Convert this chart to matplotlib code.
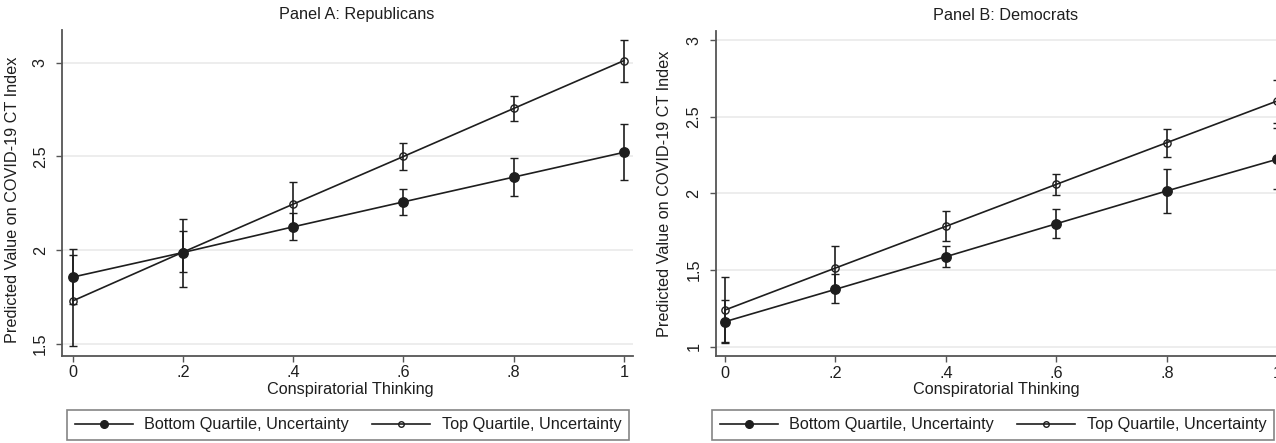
import matplotlib
matplotlib.use("Agg")
from matplotlib import pyplot as plt
from matplotlib.lines import Line2D
import numpy as np

plt.rcParams["font.family"] = ["Liberation Sans", "DejaVu Sans"]
plt.rcParams["font.size"] = 11.7

# data
x = [0, 0.2, 0.4, 0.6, 0.8, 1]
x_ticklabels = ["0", ".2", ".4", ".6", ".8", "1"]
series_names = ["Bottom Quartile, Uncertainty", "Top Quartile, Uncertainty"]

# Panel A: Republicans
rep_bottom = [1.857, 1.988, 2.125, 2.258, 2.390, 2.522]
rep_bottom_lo = [1.713, 1.882, 2.053, 2.187, 2.289, 2.374]
rep_bottom_hi = [2.009, 2.100, 2.196, 2.328, 2.492, 2.672]
rep_top = [1.730, 1.990, 2.246, 2.500, 2.756, 3.011]
rep_top_lo = [1.488, 1.805, 2.127, 2.428, 2.688, 2.898]
rep_top_hi = [1.973, 2.168, 2.364, 2.571, 2.822, 3.123]

# Panel B: Democrats
dem_bottom = [1.163, 1.374, 1.587, 1.802, 2.016, 2.223]
dem_bottom_lo = [1.024, 1.285, 1.517, 1.706, 1.874, 2.028]
dem_bottom_hi = [1.305, 1.474, 1.654, 1.898, 2.158, 2.428]
dem_top = [1.239, 1.513, 1.785, 2.059, 2.331, 2.603]
dem_top_lo = [1.030, 1.366, 1.687, 1.990, 2.240, 2.460]
dem_top_hi = [1.452, 1.659, 1.883, 2.127, 2.421, 2.742]

INK = "#1e1e1e"
W, H = 1276, 443


def px_axes(left, top, right, bottom):
    # pixel box -> figure fraction
    return [left / W, 1 - bottom / H, (right - left) / W, (bottom - top) / H]


def draw_series(ax, est, lo, hi, filled):
    est = np.array(est)
    yerr = [est - np.array(lo), np.array(hi) - est]
    ax.errorbar(
        x, est, yerr=yerr,
        color=INK, lw=1.2, elinewidth=1.2, capsize=3.2, capthick=1.2,
        marker="o",
        markersize=6.8 if filled else 5.2,
        markerfacecolor=INK if filled else "none",
        markeredgecolor=INK, markeredgewidth=1.0,
        clip_on=False, zorder=3,
    )


def style_axes(ax, xlim, ylim, yticks, yticklabels):
    ax.set_xlim(*xlim)
    ax.set_ylim(*ylim)
    ax.set_xticks(x)
    ax.set_xticklabels(x_ticklabels)
    ax.set_yticks(yticks)
    ax.set_yticklabels(yticklabels, rotation=90, va="center")
    for side in ["top", "right"]:
        ax.spines[side].set_visible(False)
    for side in ["left", "bottom"]:
        ax.spines[side].set_color("#555555")
        ax.spines[side].set_linewidth(1.3)
    ax.tick_params(axis="both", length=4, width=1.0, color="#555555",
                   labelcolor=INK, labelsize=11.7)
    ax.tick_params(axis="y", pad=6)
    ax.tick_params(axis="x", pad=3)
    ax.grid(axis="y", color="#ececec", lw=1.3)
    ax.set_axisbelow(True)
    ax.set_xlabel("Conspiratorial Thinking", color=INK)
    ax.set_ylabel("Predicted Value on COVID-19 CT Index", color=INK)


fig = plt.figure(figsize=(W / 100, H / 100), dpi=100)
fig.patch.set_facecolor("white")

axA = fig.add_axes(px_axes(61.7, 30, 633, 355.7))
draw_series(axA, rep_bottom, rep_bottom_lo, rep_bottom_hi, True)
draw_series(axA, rep_top, rep_top_lo, rep_top_hi, False)
style_axes(axA, (-0.02, 1.0163), (1.438, 3.174), [1.5, 2, 2.5, 3],
           ["1.5", "2", "2.5", "3"])
axA.xaxis.set_label_coords(0.505, -0.105)
axA.xaxis.label.set_va("center")
axA.yaxis.set_label_coords(-0.073, 0.48)

axB = fig.add_axes(px_axes(715.5, 30.7, 1286.8, 356))
draw_series(axB, dem_bottom, dem_bottom_lo, dem_bottom_hi, True)
draw_series(axB, dem_top, dem_top_lo, dem_top_hi, False)
style_axes(axB, (-0.0172, 1.017), (0.939, 3.061), [1, 1.5, 2, 2.5, 3],
           ["1", "1.5", "2", "2.5", "3"])
axB.xaxis.set_label_coords(0.492, -0.104)
axB.xaxis.label.set_va("center")
axB.yaxis.set_label_coords(-0.076, 0.5)

fig.text(357 / W, 1 - 15 / H, "Panel A: Republicans", ha="center", va="center",
         color=INK, fontsize=11.7)
fig.text(1006 / W, 1 - 15 / H, "Panel B: Democrats", ha="center", va="center",
         color=INK, fontsize=11.7)

handles = [
    Line2D([], [], color=INK, lw=1.2, marker="o", markersize=5.5,
           markerfacecolor=INK, markeredgecolor=INK),
    Line2D([], [], color=INK, lw=1.2, marker="o", markersize=4.0,
           markerfacecolor="none", markeredgecolor=INK),
]
for cx in [348, 993]:
    leg = fig.legend(
        handles, series_names, loc="center",
        bbox_to_anchor=(cx / W, 1 - 425 / H), ncol=2,
        frameon=True, fancybox=False, edgecolor="#666666",
        handlelength=3.6, handletextpad=0.7, columnspacing=1.4,
        borderpad=0.45, fontsize=11.7,
    )
    leg.get_frame().set_linewidth(1.2)
    for t in leg.get_texts():
        t.set_color(INK)

fig.savefig("out.png", dpi=100, facecolor="white")
